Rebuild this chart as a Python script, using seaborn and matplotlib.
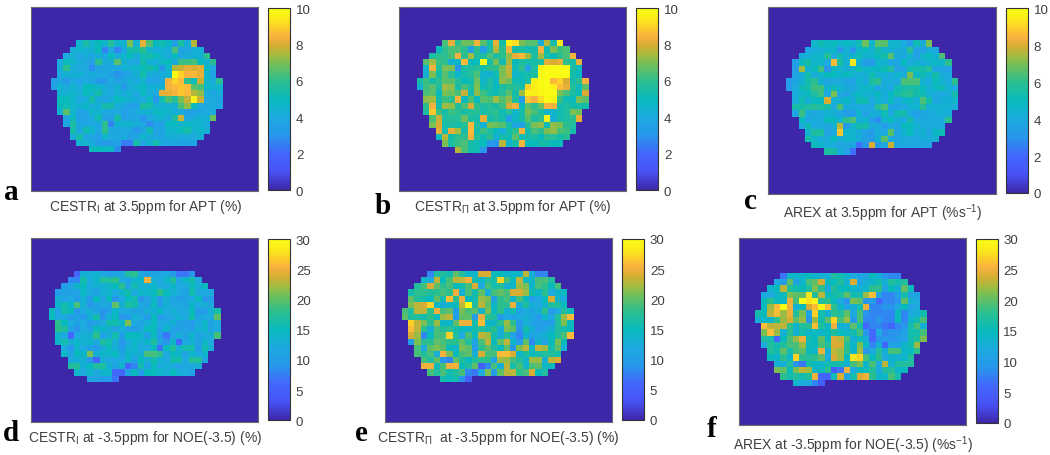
import numpy as np
import matplotlib
matplotlib.use("Agg")
import matplotlib.pyplot as plt
from matplotlib.colors import LinearSegmentedColormap
import seaborn as sns

row_starts = [4,3,2,1,1,1,0,0,1,1,1,1,2,2,3,3,4,6]

cestr1_apt = [
[4.5,5.5,4.6,5.0,4.6,5.8,4.6,4.4,7.0,4.4,8.2,6.4,5.0,5.2,4.8,3.4,5.6,4.2,7.6],
[4.2,4.6,4.4,4.4,5.0,2.6,4.0,2.6,3.8,5.4,5.4,6.0,4.6,4.2,4.4,4.2,6.4,3.6,3.8,4.2,4.4],
[4.0,4.4,3.8,4.2,3.8,4.2,3.8,5.0,4.2,4.6,5.0,4.2,5.2,5.4,5.0,4.6,4.2,5.0,3.8,4.2,4.4,4.4,6.0],
[4.0,5.0,4.6,4.2,3.8,3.4,6.0,4.2,4.2,6.6,4.4,4.0,3.8,5.4,4.4,4.2,4.8,5.0,3.8,6.2,6.2,6.4,5.0,4.4,6.0],
[4.2,6.0,4.2,4.0,4.0,2.8,3.8,3.8,4.0,4.0,4.4,4.4,4.6,5.0,5.4,5.0,3.0,4.6,7.6,7.8,8.2,8.0,8.2,4.8,4.0],
[4.0,4.4,4.2,4.4,4.0,4.2,3.8,4.0,3.6,3.0,3.4,3.8,4.4,5.4,4.2,3.8,4.2,4.4,10,9.0,8.4,8.6,8.2,4.6,3.8],
[3.6,3.8,3.2,4.0,3.6,4.0,3.8,3.2,3.2,4.0,3.6,3.8,4.4,4.0,4.6,3.6,3.6,4.0,8.4,9.0,8.6,6.0,5.0,7.8,4.6,4.2,5.8],
[3.6,4.6,4.0,4.6,4.0,5.0,5.0,4.6,4.2,3.8,4.4,3.2,4.2,4.6,4.8,4.4,4.4,4.4,8.4,8.6,8.8,8.6,6.6,6.4,4.8,4.4,4.6],
[4.4,4.4,4.6,4.4,5.0,4.6,5.4,4.2,4.0,4.4,4.2,4.4,4.0,5.0,4.2,4.0,8.2,8.2,8.4,8.8,8.6,7.6,7.2,4.2,3.8,4.2],
[5.0,5.0,4.6,4.0,4.2,5.4,4.2,3.8,4.2,5.0,4.6,4.4,4.2,4.0,4.8,3.0,5.2,6.4,5.8,7.0,7.8,9.6,7.8,4.0,4.0,3.8],
[5.0,5.2,4.6,4.4,4.8,4.2,4.4,5.4,5.4,4.2,3.8,3.4,3.6,5.6,5.4,4.4,4.4,4.4,4.4,6.4,7.2,5.0,4.0,3.8,4.2,3.8],
[4.4,6.6,4.6,3.6,3.8,4.6,4.4,4.0,3.8,4.0,3.4,3.8,4.0,4.4,4.4,5.0,4.8,4.6,4.2,4.2,3.4,3.6,3.8,4.0,4.0],
[3.8,5.0,3.6,3.6,4.0,5.2,3.6,3.4,5.4,3.6,3.6,3.8,3.0,4.0,4.4,4.6,4.2,5.6,7.8,4.0,4.2,4.4,4.4,6.8],
[3.8,5.6,3.8,3.8,4.0,3.8,6.0,2.6,4.4,4.6,4.6,4.2,3.8,2.8,3.6,3.4,4.8,5.0,4.6,4.8,4.6,4.4,4.2],
[5.4,3.8,5.2,4.6,3.8,6.0,4.0,3.8,4.0,3.8,3.0,3.8,5.2,3.6,3.8,4.6,4.6,5.0,5.4,4.4,4.6,4.4],
[4.2,5.4,3.8,3.8,3.6,4.6,4.0,4.0,4.2,3.4,3.8,4.6,4.2,4.0,3.8,4.2,4.4,4.0,4.2,4.0,4.4],
[4.4,4.6,4.0,3.4,3.2,3.2,3.6,2.4,2.4,5.4,3.6,4.4,5.4,4.0,3.8,3.8,3.8,3.6,3.8],
[5.0,5.0,4.8,4.8,2.8],
]

cestr2_apt = [
[6.4,8.2,6.0,6.8,6.8,8.4,6.6,5.4,8.2,5.4,9.6,9.2,7.0,6.6,6.6,4.2,7.6,5.4,9.4],
[5.0,6.0,6.4,6.4,6.0,3.4,6.0,3.4,5.6,7.6,6.0,8.4,5.4,5.6,5.2,5.4,8.4,5.2,7.0,6.2,6.4],
[5.6,6.0,6.0,6.4,8.4,6.0,7.4,5.6,5.6,6.4,5.6,6.0,7.2,8.2,8.6,7.4,5.6,7.4,5.6,5.0,6.0,6.4,8.4],
[6.6,7.4,6.2,6.0,4.4,4.8,8.6,5.0,5.0,10,5.4,7.0,5.2,7.4,5.0,5.6,5.4,5.4,5.6,8.2,8.0,8.2,6.0,5.4,8.2],
[4.6,8.4,5.8,7.0,7.0,3.0,5.6,5.6,5.8,5.4,6.0,6.0,7.0,7.8,5.2,6.0,3.6,5.6,9.6,10,10,10,10,5.6,5.0],
[4.4,7.0,5.4,6.6,5.8,4.6,5.4,5.8,6.4,4.6,4.4,5.2,7.0,7.6,4.6,5.2,5.4,5.6,10,10,10,10,10,5.4,5.0],
[5.4,6.2,5.4,6.0,6.6,6.6,5.8,5.0,5.4,6.8,4.6,5.6,4.8,7.2,6.8,5.2,5.0,5.6,9.6,10,10,8.6,9.0,8.0,5.4,6.0,8.4],
[4.4,6.2,6.6,5.6,7.4,7.2,5.4,6.4,5.6,7.0,5.2,5.6,5.0,5.6,6.0,5.8,5.4,9.0,9.6,10,10,9.6,8.6,8.2,5.8,5.0,6.6],
[6.4,6.6,5.0,7.0,6.8,6.4,7.8,5.2,7.2,6.2,5.4,5.2,5.8,6.6,5.4,7.4,9.6,9.6,9.8,10,10,7.0,6.4,5.6,5.2,8.0],
[7.2,7.4,5.4,6.2,6.0,8.4,5.0,6.4,5.0,6.6,6.4,7.4,6.6,7.2,5.6,3.4,8.8,8.4,9.2,10,9.8,6.2,5.2,5.0,7.0,6.6],
[6.0,8.4,5.4,7.4,7.2,5.6,6.4,8.0,6.0,5.6,5.8,5.4,6.2,8.0,8.4,5.0,6.6,6.0,6.8,8.4,8.4,5.4,5.6,5.4,5.4,5.4],
[5.6,8.8,6.2,5.4,6.2,6.0,5.4,5.8,5.8,5.4,5.8,6.0,5.2,5.8,4.6,5.4,7.0,6.4,5.6,4.6,4.6,5.2,5.6,7.0,6.8],
[6.4,7.8,5.6,5.8,5.8,6.8,5.6,5.4,8.2,5.4,5.8,5.4,3.4,4.8,5.4,6.6,5.6,6.0,9.6,4.4,5.4,5.6,6.0,8.2],
[7.0,8.0,5.4,5.6,5.4,5.8,8.6,5.6,4.4,7.0,6.8,6.6,5.4,3.8,3.6,5.8,7.0,7.2,5.2,7.2,7.0,6.0,5.6],
[8.2,5.2,8.2,7.4,5.4,8.6,5.4,6.2,5.6,5.0,4.2,5.4,6.0,8.4,5.4,6.4,6.0,7.0,7.2,6.4,6.2,5.4],
[5.0,7.6,5.4,6.0,6.0,8.4,5.8,5.2,6.0,4.4,5.4,5.2,6.6,5.2,5.4,5.6,5.0,6.0,5.8,5.4,5.8],
[7.0,5.6,6.2,6.4,5.4,5.2,5.0,3.0,3.0,7.6,4.6,5.4,8.6,5.0,5.0,5.4,5.4,5.0,5.0],
[7.6,6.4,5.4,5.2,3.0],
]

arex_apt = [
[4.6,5.2,4.8,5.0,4.6,4.8,4.6,5.2,6.8,4.6,6.6,6.6,4.6,4.6,4.0,3.2,5.2,4.2,7.0],
[3.8,4.2,4.4,4.6,4.8,3.0,4.4,3.0,4.6,5.0,4.4,5.4,4.6,4.4,4.2,4.2,5.8,3.6,3.6,4.2,4.0],
[4.2,4.4,4.6,4.6,5.8,4.0,5.2,4.4,4.6,5.2,4.4,4.6,5.0,5.4,6.6,4.2,3.8,4.6,3.6,4.6,5.0,4.4,6.4],
[3.4,5.0,5.4,4.6,4.6,4.0,8.6,5.6,4.4,9.4,4.4,3.4,3.2,4.6,4.4,3.8,3.8,5.0,4.0,4.4,4.2,4.4,4.8,4.6,6.0],
[3.4,7.4,4.4,5.0,6.2,3.0,4.8,4.6,4.4,4.6,5.2,4.6,4.8,4.8,5.2,5.6,3.6,3.8,5.2,5.4,5.4,5.8,3.8,3.8,3.6],
[3.6,4.2,5.4,4.2,4.6,5.0,5.0,4.6,5.0,4.6,4.2,4.4,5.2,4.4,4.4,4.2,4.6,4.2,7.0,4.8,5.2,4.6,5.4,4.2,4.0],
[3.4,3.8,4.4,5.4,6.0,4.4,3.8,4.0,4.2,3.6,3.6,4.6,4.2,5.6,6.0,4.2,4.2,4.0,6.4,6.4,6.4,4.4,4.2,5.0,4.4,4.2,6.0],
[3.2,4.0,5.2,5.4,6.2,6.2,4.4,5.2,4.6,4.2,3.8,4.4,4.8,4.6,3.8,4.2,3.8,5.2,5.4,5.6,5.4,5.0,4.4,4.8,5.2,4.4,4.0],
[4.2,4.6,5.0,5.6,6.2,4.0,7.0,4.0,3.6,4.4,4.8,4.4,4.4,5.0,4.2,4.8,5.4,5.8,6.0,5.4,5.2,4.4,4.0,3.8,4.2,5.4],
[4.2,5.2,4.4,5.0,5.0,8.0,4.4,4.4,4.8,4.2,5.2,5.2,4.0,4.6,4.2,5.0,4.0,4.6,4.8,4.4,6.4,5.4,3.8,4.2,4.4,4.6],
[5.4,5.4,5.6,5.8,5.6,5.4,4.0,6.4,4.2,4.0,4.0,4.0,4.0,5.8,6.4,3.8,3.8,4.0,4.4,4.6,5.8,4.4,4.4,4.4,4.4,4.2],
[3.8,6.2,4.2,3.8,4.2,4.4,4.4,3.8,3.4,3.4,4.6,3.6,4.2,4.2,5.2,4.0,5.2,5.4,4.0,3.4,3.8,4.0,4.2,4.4,4.2],
[5.0,3.8,4.2,4.0,5.0,5.0,4.6,6.0,6.4,4.2,4.6,3.4,2.8,4.6,5.0,4.2,4.0,5.4,4.0,4.0,4.2,4.0,4.0,6.0],
[4.0,5.2,4.0,4.2,3.8,4.4,7.6,3.2,4.6,5.4,5.4,4.2,4.0,3.4,4.0,3.8,5.0,5.0,4.4,4.2,4.0,4.2,4.0],
[4.4,5.6,5.6,3.6,4.0,8.8,4.6,4.6,4.2,3.6,3.2,4.2,4.0,6.6,3.8,4.4,5.0,4.2,4.4,3.8,4.8,5.2],
[5.4,4.6,4.2,4.2,5.0,4.2,4.6,4.6,4.2,3.6,3.2,4.4,6.6,4.0,3.8,4.2,4.0,4.0,4.2,4.2,4.4],
[5.0,4.6,4.2,4.0,3.8,3.8,3.8,2.2,3.0,8.0,3.2,3.8,7.8,3.8,3.8,3.8,3.8,3.8,3.6],
[5.6,5.4,4.2,3.6,2.2],
]

cestr1_noe = [
[6,13,13,13.5,12,10.5,11,12,17,18,12,11,11,11,12,10,7,7,9],
[8,8,16,12,14,17,17,18,12,11,14,14,25,13,12,14,17,11,14,16,12],
[10,11,14,15,12,13,13,14,15,18,11,16,13,13,14,12,12,14,12,12,15,13,15],
[10,11,11,11,14,12,11,13,14,12,14,16,12,14,14,15,18,15,13,12,11,16,12,12,12],
[13,11,12,10,13,10,15,11,15,9,12,15,16,9,11,14,10,13,11,10,11,12,15,9,10],
[14,16,14,19,13,9,11,12,11,20,13,17,16,12,11,15,10,13,12,12,11,14,12,13,12],
[15,11,16,15,9,12,13,11,9,11,14,12,12,11,11,13,13,15,12,13,12,12,15,10,10,13,16],
[15,12,12,10,11,10,13,16,9,13,15,9,10,13,12,10,15,10,11,12,13,12,16,11,12,12,20],
[18,15,12,11,12,10,11,12,16,16,14,21,12,11,13,15,12,12,13,11,10,10,12,14,11,12],
[18,17,11,9,12,11,15,14,13,11,13,11,10,12,15,15,11,14,11,10,11,10,13,14,11,12],
[14,12,6,12,13,13,18,11,13,16,10,15,15,14,11,15,10,7,11,13,11,14,11,12,13,19],
[14,16,13,14,13,14,12,17,16,13,9,12,14,13,14,17,11,9,14,6,12,13,11,14,12],
[12,9,14,12,11,10,13,15,13,10,13,14,12,12,15,7,15,17,13,16,16,10,16,13],
[14,11,15,14,21,13,14,14,15,11,14,13,13,19,19,18,12,15,14,11,14,12,14],
[12,13,13,9,6,13,12,12,12,14,11,15,13,16,13,12,16,16,12,17,17,11],
[17,17,13,15,17,17,13,11,14,6,8,16,11,15,12,13,12,11,12,12,13],
[14,12,14,12,14,14,6,6,11,15,10,15,15,14,13,15,13,12,11],
[11,11,10,10,7],
]

cestr2_noe = [
[8,17,17,16,20,17,14,14,24,24,15,15,14,14,14,23,13,8,8],
[14,12,23,15,19,23,23,25,16,14,17,16,27,19,15,23,15,14,19,19,17],
[17,19,24,20,18,19,15,16,19,24,12,19,16,17,13,14,22,21,14,19,18,15,19],
[16,18,18,17,18,19,18,25,13,19,16,20,13,19,20,19,24,24,22,16,14,18,12,14,15],
[20,17,16,15,20,16,26,18,25,15,16,22,21,11,18,19,14,19,15,10,12,15,24,14,12],
[21,23,24,27,14,13,14,15,23,30,17,23,20,14,18,18,25,13,17,13,12,14,17,17,15],
[19,17,23,23,18,25,19,20,10,21,19,20,14,21,15,18,13,16,11,12,11,13,18,10,12,17,15],
[20,17,17,16,18,15,22,23,10,20,20,10,25,18,17,10,12,11,12,13,12,10,14,12,17,22,26],
[27,23,21,18,22,14,14,20,25,25,16,26,14,14,18,22,18,10,13,11,10,10,10,17,21,15],
[26,23,18,13,19,17,18,16,15,14,16,17,16,18,13,21,20,9,16,13,10,11,13,17,16,15],
[24,22,8,15,19,19,27,17,12,19,15,23,22,16,13,17,11,8,14,11,12,13,15,17,19,26],
[10,21,18,18,20,19,18,18,20,17,11,19,23,15,20,23,14,10,20,8,14,11,15,21,15],
[19,12,20,21,20,15,14,21,20,10,18,20,17,15,20,9,21,23,14,23,22,16,20,13],
[19,17,19,13,25,21,15,19,20,13,24,19,19,26,26,24,14,17,15,16,17,17,16],
[19,17,20,9,8,20,17,15,17,18,18,11,22,22,19,17,14,22,22,13,23,24],
[25,25,15,19,25,25,15,17,20,5,8,19,13,23,16,19,14,19,20,14,15],
[19,17,19,16,17,19,8,7,12,21,10,20,23,23,18,19,24,15,17],
[16,15,16,9,5],
]

arex_noe = [
[7,14,14,14,15,14,13,13,17,16,14,12,11,11,15,13,9,8,8],
[12,10,20,11,14,19,20,24,15,15,17,13,24,11,13,14,16,13,17,16,17],
[14,15,23,17,16,15,17,21,18,12,17,15,15,14,13,14,18,18,11,15,13,20,15],
[12,12,14,15,21,20,20,28,17,23,15,16,17,20,16,16,22,26,11,8,8,11,16,11,11],
[15,18,15,14,25,19,30,28,29,17,18,15,12,9,21,20,9,10,6,8,8,9,20,13,12],
[15,22,26,30,25,13,15,24,26,30,26,18,14,11,13,16,25,8,8,9,9,12,15,11,12],
[16,15,23,26,22,25,17,21,11,27,16,13,18,17,20,12,19,9,8,8,8,8,15,8,12,13,16],
[13,14,14,18,22,24,20,22,9,22,16,20,27,19,22,10,19,8,8,9,8,8,15,8,14,16,19],
[26,23,23,23,18,14,17,18,26,17,14,25,13,13,20,16,6,8,8,7,6,8,9,16,19,13],
[21,26,22,13,18,13,16,14,15,14,15,17,15,14,16,19,9,6,12,8,9,9,11,16,16,19],
[17,16,6,15,19,22,25,16,15,20,15,24,23,19,13,15,13,6,9,9,9,10,11,16,17,21],
[12,17,16,17,19,19,22,15,15,19,17,24,24,17,14,21,15,8,13,6,11,11,14,16,22],
[17,16,20,16,19,20,15,14,25,13,23,22,18,14,22,9,12,17,13,19,19,14,15,18],
[15,14,18,14,27,18,17,18,20,12,24,22,15,28,27,19,15,18,12,14,13,14,17],
[13,13,17,9,7,16,15,14,16,16,16,13,19,21,14,19,12,23,13,17,17,17],
[21,20,15,21,23,22,14,15,18,5,7,25,12,15,15,17,12,17,17,14,15],
[18,16,17,16,17,25,6,6,15,24,11,16,24,25,18,14,14,19,16],
[14,12,12,8,5],
]

parula = LinearSegmentedColormap.from_list("parula", [
    (0.00,(0.2422,0.1504,0.6603)),(0.10,(0.2810,0.3228,0.9579)),
    (0.20,(0.2647,0.4030,0.9935)),(0.30,(0.1540,0.5902,0.9218)),
    (0.40,(0.1085,0.6669,0.8734)),(0.50,(0.0300,0.7300,0.7400)),
    (0.60,(0.1700,0.7500,0.5600)),(0.70,(0.4700,0.7500,0.3300)),
    (0.75,(0.6700,0.7300,0.2400)),(0.80,(0.8500,0.6800,0.2000)),
    (0.85,(0.9800,0.7000,0.2500)),(0.90,(0.9900,0.8200,0.1500)),
    (0.95,(0.9800,0.9300,0.1000)),(1.00,(0.9769,0.9839,0.0805))])

PAD_L, PAD_T, NC, NR = 5, 7, 46, 38
W, H = 1050, 456

def grid(rows):
    g = np.zeros((NR, NC))
    for r, vals in enumerate(rows):
        s = PAD_L + row_starts[r]
        g[PAD_T + r, s:s + len(vals)] = vals
    return g

sns.set_theme(style="white")
plt.rcParams["font.family"] = ["Liberation Sans", "DejaVu Sans"]
plt.rcParams["mathtext.fontset"] = "custom"
plt.rcParams["mathtext.rm"] = "Liberation Sans"
plt.rcParams["mathtext.default"] = "rm"
fig = plt.figure(figsize=(W / 100, H / 100), dpi=100)
fig.patch.set_facecolor("white")

def rect(x0, y0, x1, y1):
    return [x0 / W, 1 - y1 / H, (x1 - x0) / W, (y1 - y0) / H]

LBL = "#404040"
panels = [
 dict(d=cestr1_apt, vmax=10, tk=[0,2,4,6,8,10], ax=(31,8,258.3,192), cb=(268.3,9.3,290.3,191), lp=3.09, tp=5.36, cw=6.37, ch=6.22,
      let="a", lx=4, ly=200, tx=49, ty=207, t=r"CESTR$_{I}$ at 3.5ppm for APT (%)"),
 dict(d=cestr2_apt, vmax=10, tk=[0,2,4,6,8,10], ax=(399,8,626.3,192), cb=(636.3,9.3,658.3,191), lp=2.77, tp=5.25, cw=6.37, ch=6.28,
      let="b", lx=375, ly=214, tx=414, ty=207, t=r"CESTR$_{\Pi}$ at 3.5ppm for APT (%)"),
 dict(d=arex_apt, vmax=10, tk=[0,2,4,6,8,10], ax=(768.3,8,995.7,195), cb=(1005.7,9.3,1028,194), lp=2.77, tp=5.25, cw=6.37, ch=6.35,
      let="c", lx=744, ly=209, tx=783, ty=213, t=r"AREX at 3.5ppm for APT (%s$^{-1}$)"),
 dict(d=cestr1_noe, vmax=30, tk=[0,5,10,15,20,25,30], ax=(31,238.7,258.3,422.7), cb=(268.3,240.3,290.3,421.3), lp=2.77, tp=5.41, cw=6.37, ch=6.15,
      let="d", lx=3, ly=441, tx=28, ty=438, t=r"CESTR$_{I}$ at -3.5ppm for NOE(-3.5) (%)"),
 dict(d=cestr2_noe, vmax=30, tk=[0,5,10,15,20,25,30], ax=(384.7,238.7,612.3,422.7), cb=(622.3,240,644.3,421), lp=2.67, tp=5.41, cw=6.37, ch=6.15,
      let="e", lx=355, ly=441, tx=377, ty=438, t=r"CESTR$_{\Pi}$  at -3.5ppm for NOE(-3.5) (%)"),
 dict(d=arex_noe, vmax=30, tk=[0,5,10,15,20,25,30], ax=(738.7,238.7,966,426), cb=(976,240,997.7,424), lp=2.51, tp=5.58, cw=6.37, ch=6.28,
      let="f", lx=707, ly=437, tx=733, ty=445, t=r"AREX at -3.5ppm for NOE(-3.5) (%s$^{-1}$)"),
]

for p in panels:
    ax = fig.add_axes(rect(*p["ax"]))
    cax = fig.add_axes(rect(*p["cb"]))
    sns.heatmap(grid(p["d"]), ax=ax, cbar_ax=cax, cmap=parula, vmin=0, vmax=p["vmax"],
                xticklabels=False, yticklabels=False, square=False,
                cbar_kws={"ticks": p["tk"]})
    x0, y0, x1, y1 = p["ax"]
    left = PAD_L - p["lp"]
    top = PAD_T - p["tp"]
    ax.set_xlim(left, left + (x1 - x0) / p["cw"])
    ax.set_ylim(top + (y1 - y0) / p["ch"], top)
    for s in ax.spines.values():
        s.set_visible(True)
        s.set_color("#6a6a6a")
        s.set_linewidth(0.8)
    cax.tick_params(labelsize=9.5, colors=LBL, length=1.5, width=0.6, direction="in", right=True, pad=4)
    cax.yaxis.set_tick_params(color="#303030")
    cbar = ax.collections[0].colorbar
    cbar.outline.set_visible(True)
    cbar.outline.set_edgecolor("#333333")
    cbar.outline.set_linewidth(0.8)
    fig.text(p["lx"] / W, 1 - p["ly"] / H, p["let"], family="Liberation Serif",
             fontweight="bold", fontsize=21, color="black", ha="left", va="baseline")
    fig.text(p["tx"] / W, 1 - p["ty"] / H, p["t"], fontsize=10, color=LBL, ha="left", va="center")

fig.savefig("out.png", dpi=100)
